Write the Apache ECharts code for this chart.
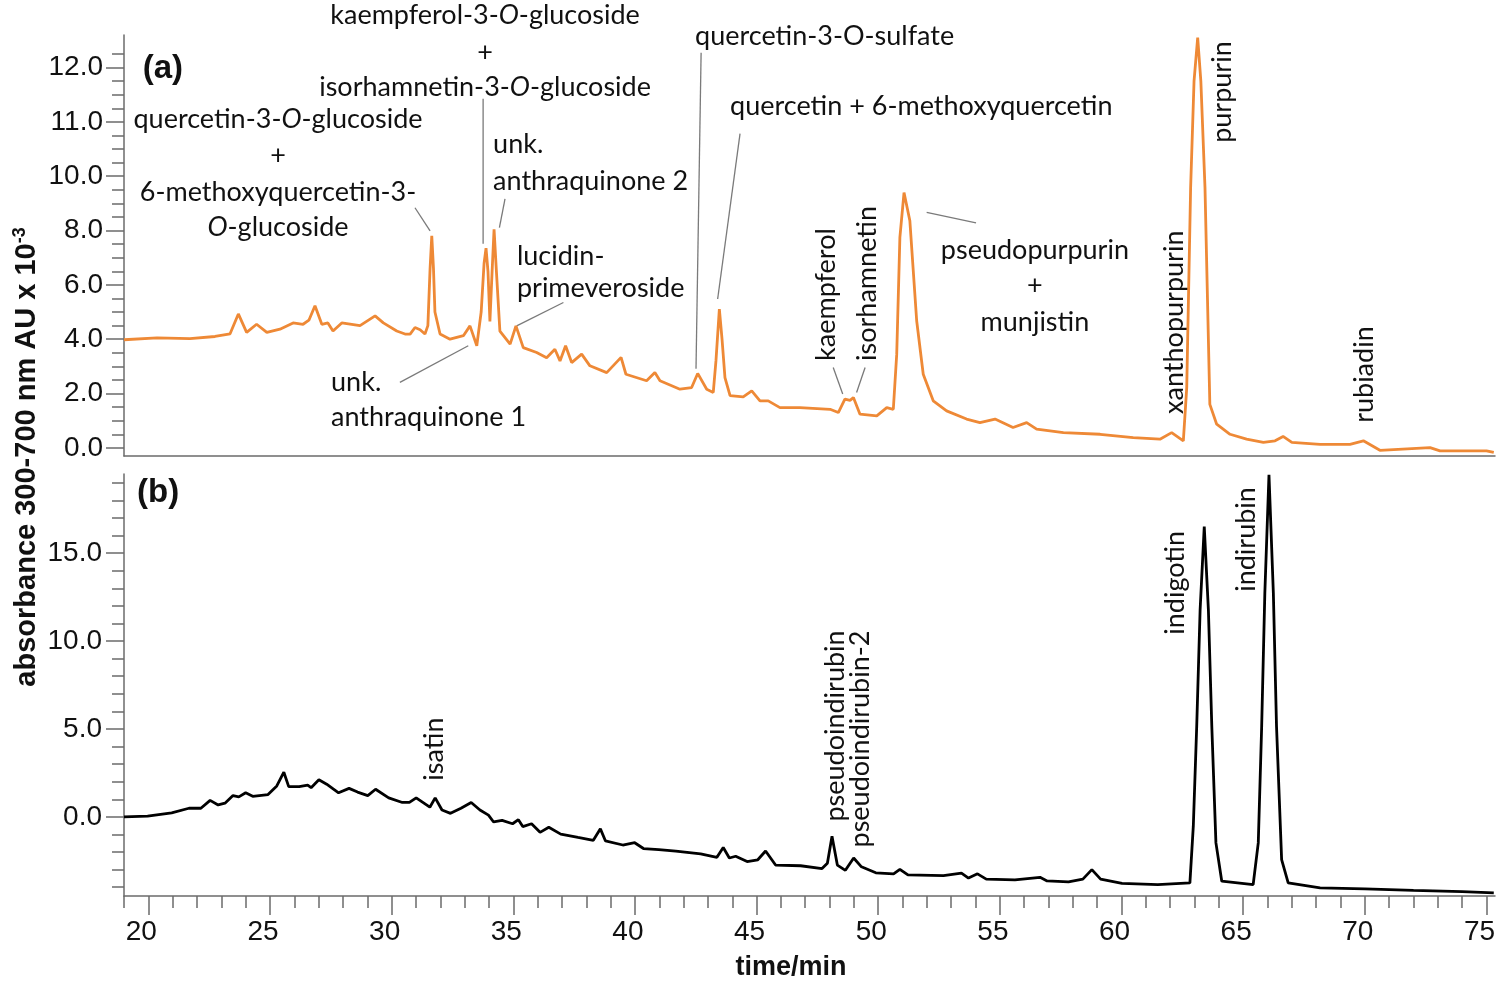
<!DOCTYPE html>
<html><head><meta charset="utf-8">
<script src="https://cdn.jsdelivr.net/npm/echarts@6.0.0/dist/echarts.min.js"></script>
<style>html,body{margin:0;padding:0;background:#fff}#c{width:1499px;height:983px}</style>
</head><body><div id="c"></div>
<script>
// ---- data (time in min, absorbance) ----
const timeA = [19.0,20.36,21.71,22.74,23.36,23.7,24.04,24.45,24.87,25.41,25.95,26.36,26.6,26.85,27.13,27.38,27.59,27.95,28.7,29.32,29.66,30.21,30.55,30.76,30.96,31.17,31.37,31.49,31.58,31.65,31.72,31.78,31.99,32.4,32.95,33.22,33.5,33.68,33.8,33.88,33.96,34.04,34.13,34.21,34.3,34.45,34.87,35.11,35.41,35.96,36.37,36.71,36.92,37.15,37.4,37.81,38.15,38.84,39.43,39.63,40.48,40.82,41.03,41.85,42.33,42.58,42.95,43.22,43.33,43.47,43.58,43.7,43.91,44.45,44.8,45.14,45.48,45.96,46.78,48.02,48.36,48.63,48.84,48.98,49.25,49.94,50.35,50.62,50.76,50.89,51.06,51.3,51.58,51.85,52.26,52.81,53.63,54.18,54.8,55.54,56.1,56.51,57.61,59.12,60.48,61.58,62.06,62.54,62.68,62.84,62.98,63.13,63.26,63.43,63.63,63.91,64.46,65.14,65.83,66.31,66.64,67.0,68.16,69.39,69.94,70.62,72.68,73.09,75.0,75.3];
const absA = [3.98,4.05,4.02,4.1,4.2,4.93,4.25,4.55,4.25,4.37,4.6,4.55,4.7,5.23,4.55,4.6,4.3,4.6,4.5,4.86,4.6,4.3,4.19,4.19,4.43,4.35,4.19,4.5,6.6,7.81,6.6,5.0,4.19,4.0,4.13,4.49,3.76,5.0,6.8,7.35,6.5,4.65,6.5,8.05,6.6,4.3,3.82,4.49,3.69,3.51,3.32,3.63,3.2,3.76,3.14,3.45,3.02,2.77,3.33,2.71,2.47,2.77,2.47,2.16,2.22,2.74,2.16,2.04,3.2,5.11,4.0,2.59,1.92,1.88,2.1,1.73,1.73,1.48,1.48,1.42,1.3,1.79,1.75,1.85,1.24,1.18,1.48,1.42,3.45,7.75,9.4,8.36,4.68,2.71,1.73,1.36,1.06,0.93,1.06,0.75,0.93,0.69,0.56,0.5,0.38,0.32,0.56,0.26,2.22,9.59,13.5,15.1,13.5,9.59,1.6,0.87,0.5,0.32,0.2,0.26,0.42,0.2,0.13,0.13,0.26,-0.09,0.01,-0.11,-0.11,-0.17];

const timeB = [19.0,19.97,20.96,21.67,22.16,22.54,22.87,23.15,23.48,23.72,24.0,24.29,24.92,25.28,25.57,25.77,26.2,26.55,26.69,27.01,27.33,27.82,28.25,28.6,29.02,29.34,29.88,30.44,30.73,31.01,31.57,31.79,32.07,32.42,32.85,33.27,33.63,33.98,34.19,34.54,34.97,35.21,35.39,35.75,36.1,36.46,36.95,37.66,38.29,38.58,38.79,39.5,39.99,40.35,40.98,41.68,42.7,43.37,43.63,43.88,44.14,44.61,45.05,45.37,45.78,46.81,47.69,47.91,48.1,48.32,48.65,48.99,49.31,49.9,50.63,50.89,51.22,52.68,53.42,53.71,54.08,54.44,55.62,56.65,56.94,57.82,58.41,58.78,59.14,60.02,61.49,62.81,62.95,63.09,63.23,63.4,63.57,63.71,63.88,64.12,65.41,65.62,65.76,65.89,66.06,66.24,66.37,66.58,66.85,68.16,70.0,72.0,74.0,75.3];
const absB = [0.0,0.04,0.23,0.49,0.49,0.94,0.68,0.78,1.21,1.14,1.37,1.17,1.27,1.76,2.54,1.72,1.72,1.8,1.66,2.11,1.86,1.37,1.62,1.41,1.21,1.57,1.08,0.82,0.82,1.08,0.55,1.08,0.39,0.2,0.49,0.82,0.39,0.1,-0.29,-0.2,-0.39,-0.16,-0.55,-0.39,-0.88,-0.59,-0.98,-1.17,-1.33,-0.68,-1.37,-1.6,-1.47,-1.8,-1.86,-1.95,-2.1,-2.3,-1.74,-2.34,-2.24,-2.54,-2.44,-1.94,-2.74,-2.78,-2.94,-2.64,-1.1,-2.74,-3.04,-2.34,-2.84,-3.18,-3.24,-2.98,-3.3,-3.34,-3.2,-3.48,-3.24,-3.54,-3.58,-3.44,-3.64,-3.7,-3.54,-3.0,-3.54,-3.78,-3.85,-3.75,-0.53,5.15,11.78,16.51,11.78,5.15,-1.48,-3.66,-3.85,-1.48,5.15,12.73,19.45,12.73,5.15,-2.43,-3.75,-4.04,-4.1,-4.18,-4.25,-4.32];

// ---- tick labels ----
const xTickValues = [20,25,30,35,40,45,50,55,60,65,70,75];
const yTickPosA = [0,2,4,6,8,10,12,14];
const yTickLabelsA = ['0.0','2.0','4.0','6.0','8.0','10.0','11.0','12.0'];
const yTickValuesB = [0,5,10,15];

// ---- annotations (in data coordinates) ----
const annotationsA = [
  {text:'kaempferol-3-{i|O}-glucoside', t:33.84, v:15.91, align:'center'},
  {text:'+', t:33.84, v:14.55, align:'center'},
  {text:'isorhamnetin-3-{i|O}-glucoside', t:33.84, v:13.26, align:'center'},
  {text:'quercetin-3-{i|O}-glucoside', t:25.33, v:12.11, align:'center'},
  {text:'+', t:25.33, v:10.76, align:'center'},
  {text:'6-methoxyquercetin-3-', t:25.33, v:9.4, align:'center'},
  {text:'{i|O}-glucoside', t:25.33, v:8.11, align:'center'},
  {text:'unk.', t:34.17, v:11.16, align:'left'},
  {text:'anthraquinone 2', t:34.17, v:9.83, align:'left'},
  {text:'lucidin-', t:35.15, v:7.07, align:'left'},
  {text:'primeveroside', t:35.15, v:5.86, align:'left'},
  {text:'unk.', t:27.51, v:2.41, align:'left'},
  {text:'anthraquinone 1', t:27.51, v:1.12, align:'left'},
  {text:'quercetin-3-O-sulfate', t:42.47, v:15.14, align:'left'},
  {text:'quercetin + 6-methoxyquercetin', t:43.91, v:12.56, align:'left'},
  {text:'pseudopurpurin', t:56.44, v:7.26, align:'center'},
  {text:'+', t:56.44, v:5.97, align:'center'},
  {text:'munjistin', t:56.44, v:4.62, align:'center'},
  {text:'kaempferol', t:47.88, v:3.2, rot:true},
  {text:'isorhamnetin', t:49.56, v:3.2, rot:true},
  {text:'xanthopurpurin', t:62.16, v:1.25, rot:true},
  {text:'purpurin', t:64.13, v:11.23, rot:true},
  {text:'rubiadin', t:69.97, v:0.92, rot:true}
];
const leadersA = [
  [30.96,8.84,31.58,7.99],
  [33.76,12.85,33.76,7.51],
  [34.66,9.17,34.43,8.11],
  [37.06,5.35,35.14,4.49],
  [30.34,2.41,33.15,3.76],
  [42.72,14.55,42.51,2.91],
  [44.32,11.57,43.4,5.48],
  [48.15,2.96,48.54,1.98],
  [49.46,2.96,49.11,2.04],
  [51.99,8.67,54.02,8.28]
];
const annotationsB = [
  {text:'isatin', t:31.74, v:2.06, rot:true},
  {text:'pseudoindirubin', t:48.24, v:-0.27, rot:true},
  {text:'pseudoindirubin-2', t:49.25, v:-1.74, rot:true},
  {text:'indigotin', t:62.2, v:10.36, rot:true},
  {text:'indirubin', t:65.14, v:12.8, rot:true}
];
const panelLabels = [
  {text:'(a)', series:0, t:20.6, v:13.96},
  {text:'(b)', series:1, t:20.4, v:18.4}
];

// ---- chart ----
const AX = '#6b6b6b';
const ORANGE = '#EE8936';
const TICKFONT = 'Liberation Sans, Arial, sans-serif';
const ANNFONT = 'Lato, Open Sans, sans-serif';
function steps(a, b, s) { const r = []; for (let k = 0; a + k * s <= b + 1e-9; k++) r.push(Math.round((a + k * s) * 100) / 100); return r; }

const chart = echarts.init(document.getElementById('c'), null, {renderer: 'canvas'});
const labelStyle = {fontFamily: TICKFONT, fontSize: 28, color: '#111'};
const lineAx = {show: true, onZero: false, lineStyle: {color: AX, width: 1.5}};
const noLine = {show: false, onZero: false};
const tickStyle = {color: AX, width: 1.5};

chart.setOption({
  animation: false,
  backgroundColor: '#fff',
  grid: [
    {left: 124, right: 4, top: 35, height: 421},
    {left: 124, right: 4, top: 474, height: 422}
  ],
  xAxis: [
    {gridIndex: 0, type: 'value', position: 'bottom', min: 19, max: 75.35, axisLine: lineAx, axisTick: {show: false}, axisLabel: {show: false}, splitLine: {show: false}},
    {gridIndex: 1, type: 'value', position: 'bottom', min: 19, max: 75.35, axisLine: lineAx,
      axisTick: {show: true, customValues: xTickValues, length: 19, lineStyle: tickStyle},
      axisLabel: Object.assign({customValues: xTickValues, margin: 22, padding: [0, 14, 0, 0]}, labelStyle),
      splitLine: {show: false}},
    {gridIndex: 1, type: 'value', position: 'bottom', min: 19, max: 75.35, axisLine: noLine,
      axisTick: {show: true, customValues: steps(19, 75, 1), length: 12, lineStyle: tickStyle},
      axisLabel: {show: false}, splitLine: {show: false}}
  ],
  yAxis: [
    {gridIndex: 0, type: 'value', position: 'left', min: -0.3, max: 15.2, axisLine: lineAx,
      axisTick: {show: true, customValues: yTickPosA, length: 18, lineStyle: tickStyle},
      axisLabel: Object.assign({customValues: yTickPosA, margin: 21, formatter: v => yTickLabelsA[yTickPosA.indexOf(v)]}, labelStyle),
      splitLine: {show: false}},
    {gridIndex: 0, type: 'value', position: 'left', min: -0.3, max: 15.2, axisLine: noLine,
      axisTick: {show: true, customValues: steps(0, 14.5, 0.5), length: 12, lineStyle: tickStyle},
      axisLabel: {show: false}, splitLine: {show: false}},
    {gridIndex: 1, type: 'value', position: 'left', min: -4.5, max: 19.5, axisLine: lineAx,
      axisTick: {show: true, customValues: yTickValuesB, length: 18, lineStyle: tickStyle},
      axisLabel: Object.assign({customValues: yTickValuesB, margin: 22, formatter: v => v.toFixed(1)}, labelStyle),
      splitLine: {show: false}},
    {gridIndex: 1, type: 'value', position: 'left', min: -4.5, max: 19.5, axisLine: noLine,
      axisTick: {show: true, customValues: steps(-4, 19, 1), length: 12, lineStyle: tickStyle},
      axisLabel: {show: false}, splitLine: {show: false}}
  ],
  series: [
    {type: 'line', xAxisIndex: 0, yAxisIndex: 0, data: timeA.map((t, i) => [t, absA[i]]), showSymbol: false, symbol: 'none', silent: true, lineStyle: {color: ORANGE, width: 2.8}},
    {type: 'line', xAxisIndex: 1, yAxisIndex: 2, data: timeB.map((t, i) => [t, absB[i]]), showSymbol: false, symbol: 'none', silent: true, lineStyle: {color: '#000', width: 2.8}}
  ]
});

function px(si, t, v) { return chart.convertToPixel({seriesIndex: si}, [t, v]); }
const richI = {i: {fontFamily: ANNFONT, fontSize: 27, fontStyle: 'italic', fill: '#111'}};
const gfx = [];
function addAnn(list, si) {
  list.forEach(a => {
    const p = px(si, a.t, a.v);
    if (a.rot) {
      gfx.push({type: 'text', x: p[0], y: p[1], rotation: Math.PI / 2, silent: true,
        style: {text: a.text, fontFamily: ANNFONT, fontSize: 27, fill: '#111', align: 'left', verticalAlign: 'middle', textAlign: 'left', textVerticalAlign: 'middle'}});
    } else {
      gfx.push({type: 'text', x: p[0], y: p[1], silent: true,
        style: {text: a.text, rich: richI, fontFamily: ANNFONT, fontSize: 27, fill: '#111', align: a.align, verticalAlign: 'middle', textAlign: a.align, textVerticalAlign: 'middle'}});
    }
  });
}
addAnn(annotationsA, 0);
addAnn(annotationsB, 1);
leadersA.forEach(l => {
  const p1 = px(0, l[0], l[1]), p2 = px(0, l[2], l[3]);
  gfx.push({type: 'line', silent: true, shape: {x1: p1[0], y1: p1[1], x2: p2[0], y2: p2[1]}, style: {stroke: '#7a7a7a', lineWidth: 1.3}});
});
panelLabels.forEach(a => {
  const p = px(a.series, a.t, a.v);
  gfx.push({type: 'text', x: p[0], y: p[1], silent: true,
    style: {text: a.text, fontFamily: TICKFONT, fontSize: 33, fontWeight: 'bold', fill: '#111', align: 'center', verticalAlign: 'middle', textAlign: 'center', textVerticalAlign: 'middle'}});
});
// axis titles
gfx.push({type: 'text', x: 791, y: 968, silent: true,
  style: {text: 'time/min', fontFamily: TICKFONT, fontSize: 27, fontWeight: 'bold', fill: '#111', align: 'center', verticalAlign: 'middle', textAlign: 'center', textVerticalAlign: 'middle'}});
gfx.push({type: 'text', x: 27, y: 457, rotation: Math.PI / 2, silent: true,
  style: {text: '{m|absorbance 300-700 nm AU x 10}{s|-3}', align: 'center', verticalAlign: 'middle', textAlign: 'center', textVerticalAlign: 'middle',
    rich: {m: {fontFamily: TICKFONT, fontSize: 29, fontWeight: 'bold', fill: '#111', lineHeight: 32},
           s: {fontFamily: TICKFONT, fontSize: 18, fontWeight: 'bold', fill: '#111', verticalAlign: 'top'}}}});
chart.setOption({graphic: gfx});
</script>
</body></html>
